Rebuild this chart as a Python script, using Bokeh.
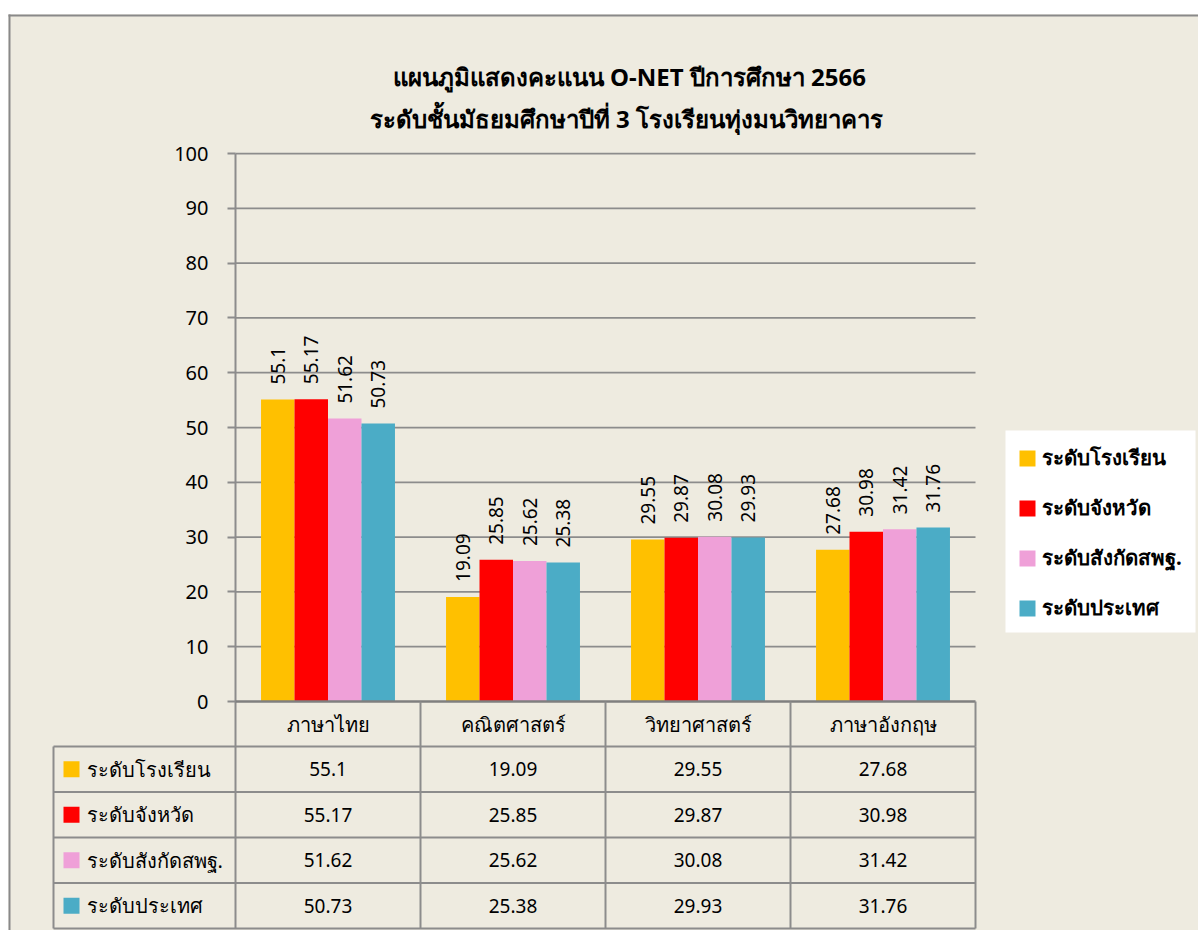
import math
from bokeh.plotting import figure
from bokeh.models import Range1d, FixedTicker, Legend, LegendItem, LinearAxis, ColumnDataSource
from bokeh.core.properties import value
from bokeh.embed import file_html
from bokeh.resources import INLINE

# ---------------- data ----------------
subjects = ["ภาษาไทย", "คณิตศาสตร์", "วิทยาศาสตร์", "ภาษาอังกฤษ"]
series_names = ["ระดับโรงเรียน", "ระดับจังหวัด", "ระดับสังกัดสพฐ.", "ระดับประเทศ"]
school = [55.1, 19.09, 29.55, 27.68]
province = [55.17, 25.85, 29.87, 30.98]
obec = [51.62, 25.62, 30.08, 31.42]
national = [50.73, 25.38, 29.93, 31.76]
y_ticks = [0, 10, 20, 30, 40, 50, 60, 70, 80, 90, 100]
title_line1 = "แผนภูมิแสดงคะแนน O-NET  ปีการศึกษา 2566"
title_line2 = "ระดับชั้นมัธยมศึกษาปีที่ 3  โรงเรียนทุ่งมนวิทยาคาร"

series_values = [school, province, obec, national]
colors = ["#FFC000", "#FF0000", "#EFA0D8", "#4BACC6"]

# ---------------- styling / geometry ----------------
BG = "#EEEBE0"
GRID = "#8C8C8C"
BORDER = "#898989"
FONT = "Noto Sans"
W, H = 1198, 930
X0_PX, CAT_PX = 235.0, 185.0     # screen x of category 0, px per category
Y0_PX, UNIT_PX = 701.0, 5.48     # screen y of score 0, px per score unit
BW = 0.181                       # bar width in category units


def px2x(px):
    return (px - X0_PX) / CAT_PX


def py2y(py):
    return (Y0_PX - py) / UNIT_PX


x_start, x_end = px2x(0), px2x(W)
y_start, y_end = py2y(H), py2y(0)

p = figure(width=W, height=H,
           x_range=Range1d(x_start, x_end), y_range=Range1d(y_start, y_end),
           x_axis_location=None, y_axis_location=None,
           toolbar_location=None, output_backend="svg",
           min_border=0, min_border_left=0, min_border_right=0,
           min_border_top=0, min_border_bottom=0,
           background_fill_color="white", border_fill_color="white",
           outline_line_color=None)
p.grid.visible = False

# chart area background and its border
p.quad(left=[px2x(8)], right=[x_end], top=[py2y(14)], bottom=[y_start],
       fill_color=BG, line_color=None)
p.segment(x0=[px2x(9), px2x(8)], y0=[py2y(14), py2y(15)],
          x1=[px2x(9), x_end], y1=[y_start, py2y(15)],
          line_color=BORDER, line_width=2)

ncat = len(subjects)
# horizontal gridlines
grid_vals = [v for v in y_ticks if v != 0]
p.segment(x0=[0] * len(grid_vals), y0=grid_vals, x1=[ncat] * len(grid_vals), y1=grid_vals,
          line_color=GRID, line_width=1.75)

# y axis (real axis, pinned at x=0)
ax = LinearAxis(fixed_location=0, ticker=FixedTicker(ticks=y_ticks))
ax.major_tick_out = 8
ax.major_tick_in = 0
ax.minor_tick_out = 0
ax.minor_tick_in = 0
ax.axis_line_color = None
ax.major_tick_line_color = GRID
ax.major_tick_line_width = 2
ax.major_label_text_font = FONT
ax.major_label_text_font_size = "20px"
ax.major_label_text_color = "black"
ax.major_label_standoff = 19
p.add_layout(ax, "left")

# bars and value labels
renderers = []
for k, vals in enumerate(series_values):
    xs = [i + 0.5 + (k - 1.5) * BW for i in range(ncat)]
    src = ColumnDataSource(dict(x=xs, top=vals, label=[f"{v:g}" for v in vals]))
    r = p.vbar(x="x", top="top", bottom=0, width=BW, source=src,
               fill_color=colors[k], line_color=None)
    renderers.append(r)
    p.text(x="x", y="top", text="label", source=src, angle=math.pi / 2,
           text_align="left", text_baseline="middle", y_offset=-15,
           text_font=value(FONT), text_font_size="19px", text_color="black")

# y axis line (down through the header row) and the zero line
p.segment(x0=[0], y0=[100], x1=[0], y1=[py2y(746)], line_color=GRID, line_width=2)
p.segment(x0=[0], y0=[0], x1=[ncat], y1=[0], line_color="#7F7F7F", line_width=2.5)

# header row (category names)
p.segment(x0=list(range(1, ncat + 1)), y0=[0] * ncat, x1=list(range(1, ncat + 1)),
          y1=[py2y(746)] * ncat, line_color=GRID, line_width=2)
p.text(x=[i + 0.5 for i in range(ncat)], y=[py2y(723.5)] * ncat, text=subjects,
       text_align="center", text_baseline="middle",
       text_font=value(FONT), text_font_size="20px", text_color="black")

# data table
row_edges_px = [746, 791.5, 837, 882.5, 928]
nrows = len(series_names)
row_edges = [py2y(v) for v in row_edges_px]
p.segment(x0=[px2x(53)] * (nrows + 1), y0=row_edges, x1=[ncat] * (nrows + 1), y1=row_edges,
          line_color=GRID, line_width=2)
vx = [px2x(53)] + list(range(ncat + 1))
p.segment(x0=vx, y0=[row_edges[0]] * len(vx), x1=vx, y1=[row_edges[-1]] * len(vx),
          line_color=GRID, line_width=2)
row_y = [(row_edges[r] + row_edges[r + 1]) / 2 for r in range(nrows)]
p.scatter(x=[px2x(71)] * nrows, y=row_y, marker="square", size=16,
          fill_color=colors, line_color=None)
p.text(x=[px2x(86)] * nrows, y=row_y, text=series_names,
       text_align="left", text_baseline="middle",
       text_font=value(FONT), text_font_size="20px", text_color="black")
for r, vals in enumerate(series_values):
    p.text(x=[i + 0.5 for i in range(len(vals))], y=[row_y[r]] * len(vals),
           text=[f"{v:g}" for v in vals], text_align="center", text_baseline="middle",
           text_font=value(FONT), text_font_size="19px", text_color="black")

# title
p.text(x=[px2x(632), px2x(629)], y=[py2y(76), py2y(118)], text=[title_line1, title_line2],
       text_align="center", text_baseline="middle",
       text_font=value(FONT), text_font_size="24px", text_font_style="bold", text_color="black")

# legend (white panel drawn as a box behind the legend entries)
p.quad(left=[px2x(1005)], right=[px2x(1195)], top=[py2y(430)], bottom=[py2y(632)],
       fill_color="white", line_color=None)
legend = Legend(items=[LegendItem(label=s, renderers=[r]) for s, r in zip(series_names, renderers)],
                location=(1017, H - 624), orientation="vertical",
                background_fill_alpha=0.0,
                border_line_color=None, margin=0, padding=12, spacing=17,
                glyph_width=20, glyph_height=20, label_height=26, label_width=140,
                label_standoff=5, label_text_font=FONT, label_text_font_size="20.5px",
                label_text_font_style="bold", label_text_color="black")
p.add_layout(legend)

open("out.html", "w").write(file_html(p, INLINE))
